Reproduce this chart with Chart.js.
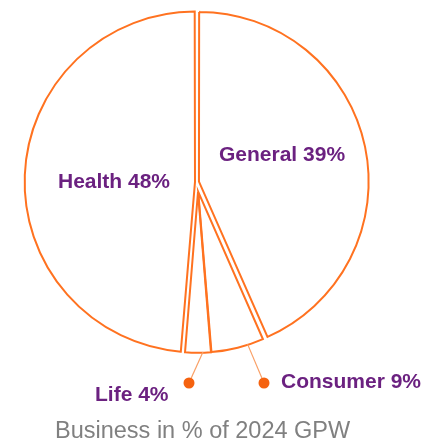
<!DOCTYPE html>
<html>
<head>
<meta charset="utf-8">
<script src="https://cdn.jsdelivr.net/npm/chart.js"></script>
<style>
    body { margin: 0; background: #fff; }
    .wrap { position: relative; width: 421px; height: 444px; overflow: hidden; }
    .wrap canvas { position: absolute; left: 0; top: 0; }
    .caption {
        position: absolute; left: 55px; top: 417px;
        font-family: "Liberation Sans", Arial, sans-serif;
        font-size: 23.5px; color: #808080; white-space: nowrap;
    }
</style>
</head>
<body>
<div class="wrap">
    <canvas id="bigSlices" width="421" height="444"></canvas>
    <canvas id="smallSlices" width="421" height="444"></canvas>
    <div class="caption">Business in % of 2024 GPW</div>
</div>
<script>
// segments, clockwise from the top
var categories = ['General', 'Consumer', 'Life', 'Health'];
var shares = [39, 9, 4, 48];              // printed percentages
var sliceSizes = [43.4, 5.3, 2.6, 48.7];  // slice angles as drawn

// the two thin slices sit a little lower and are a bit shorter
var isSmall = [false, true, true, false];

// label placement (baseline start) and leader dots
var labelPos = [[219, 161], [281, 388], [95, 401], [58, 188]];
var leaders = [null, { at: 0.3, dot: [264, 383] }, { at: 0.31, dot: [189, 383] }, null];

var orange = '#ff7220';
var purple = '#6b2180';

const labelsPlugin = {
    id: 'sliceLabels',
    afterDraw(chart) {
        const ctx = chart.ctx;
        const arcs = chart.getDatasetMeta(0).data;
        ctx.save();
        // leader lines + dots
        leaders.forEach((l, i) => {
            if (!l) return;
            const arc = arcs[i];
            const a = arc.startAngle + (arc.endAngle - arc.startAngle) * l.at;
            const r = arc.outerRadius;
            ctx.strokeStyle = '#f9a066';
            ctx.lineWidth = 1.2;
            ctx.beginPath();
            ctx.moveTo(arc.x + Math.cos(a) * r, arc.y + Math.sin(a) * r + 1);
            ctx.lineTo(l.dot[0], l.dot[1]);
            ctx.stroke();
            ctx.fillStyle = '#f5620f';
            ctx.beginPath();
            ctx.arc(l.dot[0], l.dot[1], 5.5, 0, Math.PI * 2);
            ctx.fill();
        });
        // labels
        ctx.fillStyle = purple;
        ctx.font = 'bold 21px "Liberation Sans", Arial, sans-serif';
        categories.forEach((c, i) => {
            ctx.fillText(c + ' ' + shares[i] + '%', labelPos[i][0], labelPos[i][1]);
        });
        ctx.restore();
    }
};

function pieConfig(showSmall, offset, padding, extraPlugins) {
    return {
        type: 'pie',
        data: {
            labels: categories,
            datasets: [{
                data: sliceSizes,
                backgroundColor: 'rgba(0,0,0,0)',
                borderColor: isSmall.map(s => s === showSmall ? orange : 'rgba(0,0,0,0)'),
                borderWidth: isSmall.map(s => s === showSmall ? 2 : 0),
                borderJoinStyle: 'miter',
                offset: offset
            }]
        },
        options: {
            responsive: false,
            animation: false,
            layout: { padding: padding },
            plugins: {
                legend: { display: false },
                tooltip: { enabled: false }
            }
        },
        plugins: extraPlugins
    };
}

// General + Health
new Chart(document.getElementById('bigSlices'),
    pieConfig(false, 8, { left: 23.5, right: 50.5, top: 8.5, bottom: 88.5 }, []));

// Consumer + Life, with labels on top
new Chart(document.getElementById('smallSlices'),
    pieConfig(true, 4, { left: 35, right: 60, top: 28, bottom: 90 }, [labelsPlugin]));
</script>
</body>
</html>
